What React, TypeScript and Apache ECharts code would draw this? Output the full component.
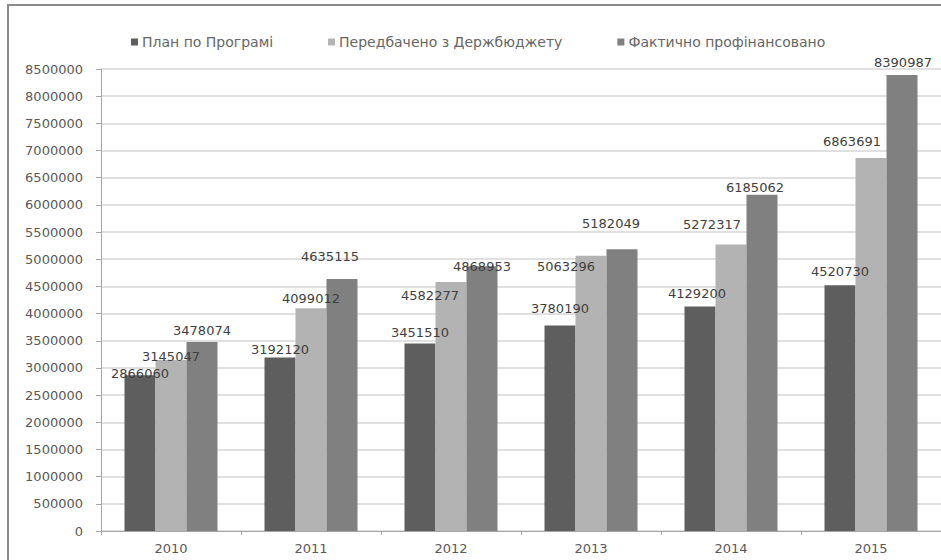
import React, { useEffect, useRef } from "react";
import * as echarts from "echarts";

const years = ["2010", "2011", "2012", "2013", "2014", "2015"];
const seriesNames = ["План по Програмі", "Передбачено з Держбюджету", "Фактично профінансовано"];
const planValues = [2866060, 3192120, 3451510, 3780190, 4129200, 4520730];
const budgetValues = [3145047, 4099012, 4582277, 5063296, 5272317, 6863691];
const actualValues = [3478074, 4635115, 4868953, 5182049, 6185062, 8390987];
const yTicks = { min: 0, max: 8500000, interval: 500000 };

// label nudges [dx, rise above bar top] to mimic hand-placed labels of the original
const labelNudges = [
  [[0, 2], [0, 8], [0, 11], [0, 18], [-3, 14], [0, 14]],
  [[0, 4], [0, 10], [-21, -13], [-25, -10], [-19, 20], [-19, 17]],
  [[0, 12], [-12, 23], [0, 0], [-11, 26], [-7, 8], [1, 13]],
];

const colors = ["#5e5e5e", "#b3b3b3", "#808080"];
const FONT = "DejaVu Sans";

export default function App() {
  const ref = useRef<HTMLDivElement>(null);
  useEffect(() => {
    if (!ref.current) return;
    const chart = echarts.init(ref.current, undefined, { renderer: "svg" });
    const all = [planValues, budgetValues, actualValues];
    chart.setOption({
      animation: false,
      backgroundColor: "#ffffff",
      color: colors,
      graphic: [
        {
          type: "rect",
          shape: { x: 8, y: 5, width: 1000, height: 1000 },
          style: { fill: "none", stroke: "#8a8a8a", lineWidth: 2 },
          silent: true,
          z: 100,
        },
      ],
      legend: {
        left: 126,
        top: 30,
        icon: "rect",
        itemWidth: 7,
        itemHeight: 7,
        itemGap: 55,
        textStyle: { fontFamily: FONT, fontSize: 14, color: "#666666", padding: [0, 0, 0, -1] },
        data: seriesNames,
      },
      grid: { left: 101, top: 69, bottom: 29, right: -8, containLabel: false },
      xAxis: {
        type: "category",
        data: years,
        axisLine: { lineStyle: { color: "#a6a6a6", width: 1 } },
        axisTick: { show: true, length: 4, lineStyle: { color: "#a6a6a6" } },
        axisLabel: { fontFamily: FONT, fontSize: 13, color: "#595959", margin: 11 },
      },
      yAxis: {
        type: "value",
        min: yTicks.min,
        max: yTicks.max,
        interval: yTicks.interval,
        axisLine: { show: true, lineStyle: { color: "#a6a6a6", width: 1 } },
        axisTick: { show: true, inside: false, length: 5, lineStyle: { color: "#a6a6a6" } },
        axisLabel: {
          fontFamily: FONT,
          fontSize: 13,
          color: "#595959",
          margin: 18,
          formatter: (v: number) => String(v),
        },
        splitLine: { lineStyle: { color: "#d6d6d6", width: 1.5 } },
      },
      series: seriesNames.map((name, i) => ({
        name,
        type: "bar",
        barWidth: 31,
        barGap: "0%",
        itemStyle: { color: colors[i] },
        label: {
          show: true,
          position: "top",
          distance: 0,
          fontFamily: FONT,
          fontSize: 13,
          color: "#3f3f3f",
        },
        data: all[i].map((v, j) => ({
          value: v,
          label: { offset: [labelNudges[i][j][0], -(labelNudges[i][j][1] - 7)] },
        })),
      })),
    });
    return () => chart.dispose();
  }, []);
  return (
    <div
      ref={ref}
      style={{ position: "absolute", left: 0, top: 0, width: 941, height: 560 }}
    />
  );
}
